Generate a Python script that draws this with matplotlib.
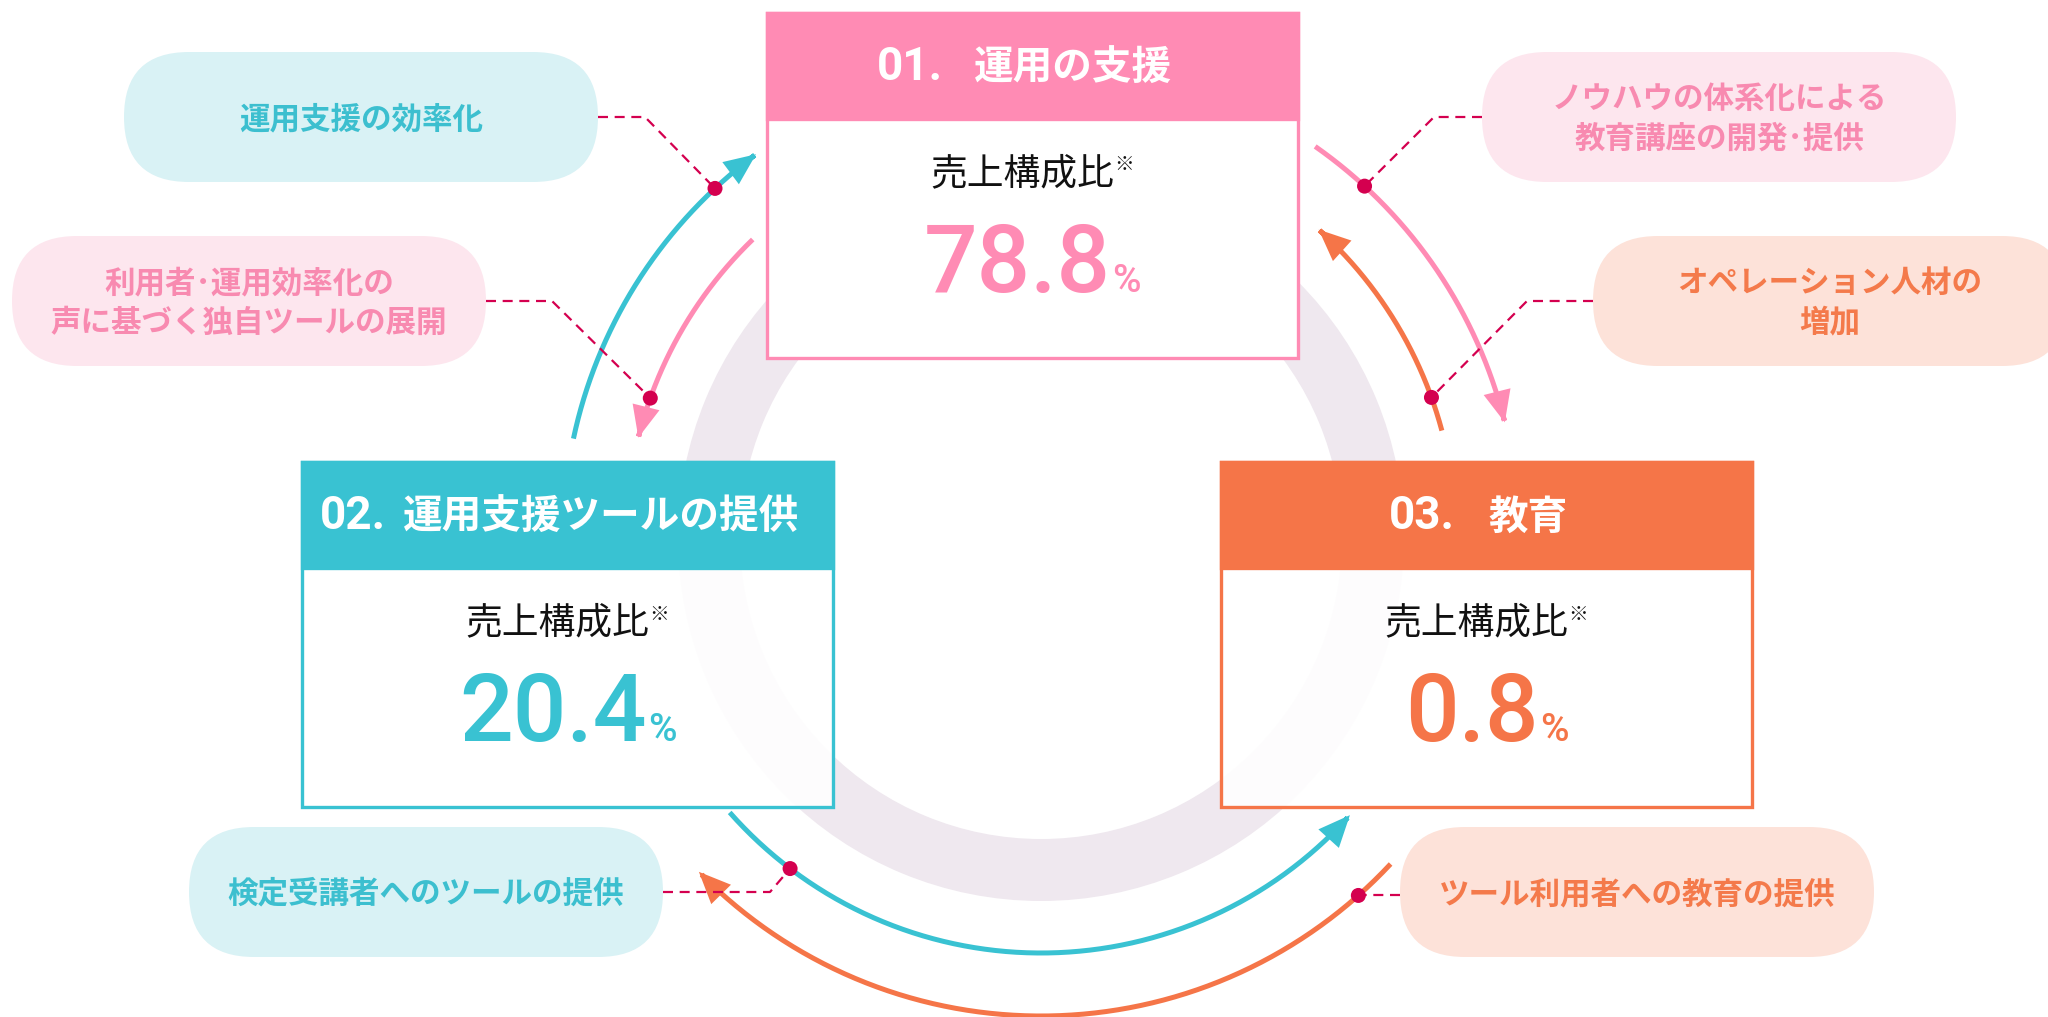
import numpy as np
import matplotlib
matplotlib.use('Agg')
import matplotlib.pyplot as plt
from matplotlib.patches import FancyBboxPatch, Rectangle, Wedge, FancyArrowPatch, Circle
from matplotlib.path import Path
from matplotlib.offsetbox import TextArea, HPacker, AnnotationBbox

JP = ['Noto Sans CJK JP', 'DejaVu Sans']
NUM = ['Roboto', 'DejaVu Sans']

# ---------------- data ----------------
seg_numbers = ['01.', '02.', '03.']
seg_names = ['運用の支援', '運用支援ツールの提供', '教育']
seg_shares = [78.8, 20.4, 0.8]
share_caption = '売上構成比'
share_mark = '※'

callout_texts = ['運用支援の効率化',
                 '利用者･運用効率化の\n声に基づく独自ツールの展開',
                 'ノウハウの体系化による\n教育講座の開発･提供',
                 'オペレーション人材の\n増加',
                 '検定受講者へのツールの提供',
                 'ツール利用者への教育の提供']
callout_seg = [1, 0, 0, 2, 1, 2]

# flows (arcs around the central ring)
flow_seg = [1, 0, 0, 2, 1, 2]
flow_start_deg = [168, 134, 55, 15, 221.4, -43]
flow_end_deg = [126.6, 166, 14, 48, 318.1, -135.7]
flow_outer = [True, False, True, False, False, True]
dot_deg = [133, 160.3, 47.4, 19.8, 232.8, -48.4]

# ---------------- style / layout ----------------
seg_colors = ['#FF8BB4', '#39C2D2', '#F57548']
pill_bg = ['#FDE6EE', '#D9F2F5', '#FDE2D9']
pill_fg = ['#F88AB0', '#3CBFCF', '#F47A4B']
dot_color = '#D4004F'
ring_color = '#EFE8EF'

W, H = 2048, 1017
fig = plt.figure(figsize=(W / 100, H / 100), dpi=100)
ax = fig.add_axes([0, 0, 1, 1])
ax.set_xlim(0, W)
ax.set_ylim(H, 0)
ax.axis('off')

cx, cy = 1041, 538
r_out, r_in = 478, 415

# background ring
ax.add_patch(Wedge((cx, cy), 363, 0, 360, width=62, facecolor=ring_color,
                   edgecolor='none', zorder=1))

def arc_pts(r, a0, a1, n=200):
    t = np.radians(np.linspace(a0, a1, n))
    return np.column_stack([cx + r * np.cos(t), cy - r * np.sin(t)])

# flows
for s, a0, a1, outer in zip(flow_seg, flow_start_deg, flow_end_deg, flow_outer):
    r = r_out if outer else r_in
    pts = arc_pts(r, a0, a1)
    p = FancyArrowPatch(path=Path(pts),
                        arrowstyle='-|>,head_length=0.55,head_width=0.24',
                        mutation_scale=30, color=seg_colors[s], lw=3.6,
                        zorder=2, joinstyle='miter', capstyle='butt')
    ax.add_patch(p)

# boxes
box_x = [767, 302, 1221]
box_y = [13, 462, 462]
box_w, box_h, head_h = 531, 345, 106
header_gap = [22, 12, 24]
box_alpha = [1.0, 0.9, 0.9]
for i in range(3):
    c = seg_colors[i]
    x0, y0 = box_x[i], box_y[i]
    ax.add_patch(Rectangle((x0, y0), box_w, box_h, facecolor='white',
                           alpha=box_alpha[i], edgecolor='none', zorder=3))
    ax.add_patch(Rectangle((x0, y0), box_w, box_h, facecolor='none',
                           edgecolor=c, lw=2.4, zorder=3.2))
    ax.add_patch(Rectangle((x0, y0), box_w, head_h, facecolor=c,
                           edgecolor=c, lw=2.4, zorder=3.1))
    xc = x0 + box_w / 2
    # header
    t_num = TextArea(seg_numbers[i], textprops=dict(family=NUM, weight='bold',
                                                    size=33, color='white'))
    t_name = TextArea(seg_names[i], textprops=dict(family=JP, weight='bold',
                                                   size=28.5, color='white'))
    hp = HPacker(children=[t_num, t_name], sep=header_gap[i], align='baseline', pad=0)
    ax.add_artist(AnnotationBbox(hp, (xc - 8, y0 + 54), frameon=False,
                                 box_alignment=(0.5, 0.5), zorder=4))
    # caption
    t_cap = TextArea(share_caption, textprops=dict(family=JP, size=26.5, color='#111111'))
    t_mark = TextArea(share_mark, textprops=dict(family=JP, size=14, color='#111111'))
    cp = HPacker(children=[t_cap, t_mark], sep=0, align='top', pad=0)
    ax.add_artist(AnnotationBbox(cp, (xc, y0 + 161), frameon=False,
                                 box_alignment=(0.5, 0.5), zorder=4))
    # share value
    t_val = TextArea(f'{seg_shares[i]:.1f}', textprops=dict(family=NUM, weight='medium',
                                                            size=68, color=c))
    t_pct = TextArea('%', textprops=dict(family=NUM, weight='medium', size=28, color=c))
    vp = HPacker(children=[t_val, t_pct], sep=1, align='baseline', pad=0)
    ax.add_artist(AnnotationBbox(vp, (xc, y0 + 253), frameon=False,
                                 box_alignment=(0.5, 0.5), zorder=4))

# callout pills
pill_x = [124, 12, 1482, 1593, 189, 1400]
pill_y = [52, 236, 52, 236, 827, 827]
pill_w, pill_h = 474, 130
for i, txt in enumerate(callout_texts):
    s = callout_seg[i]
    ax.add_patch(FancyBboxPatch((pill_x[i], pill_y[i]), pill_w, pill_h,
                                boxstyle='round,pad=0,rounding_size=65',
                                facecolor=pill_bg[s], edgecolor='none', zorder=3))
    ax.text(pill_x[i] + pill_w / 2, pill_y[i] + pill_h / 2 + 2, txt,
            family=JP, weight='bold', size=22, color=pill_fg[s],
            ha='center', va='center', multialignment='center',
            linespacing=1.3, zorder=4)

# leaders and dots
leader_side = ['right', 'right', 'left', 'left', 'right', 'left']
corner_x = [645, 552, 1434, 1527, 770, None]
for i in range(6):
    outer = flow_outer[i]
    r = r_out if outer else r_in
    t = np.radians(dot_deg[i])
    dx, dy = cx + r * np.cos(t), cy - r * np.sin(t)
    ey = pill_y[i] + pill_h / 2
    ex = pill_x[i] + pill_w if leader_side[i] == 'right' else pill_x[i]
    if corner_x[i] is None:
        xs, ys = [ex, dx], [dy, dy]
    else:
        xs, ys = [ex, corner_x[i], dx], [ey, ey, dy]
    ax.plot(xs, ys, color=dot_color, lw=1.6, ls=(0, (4.5, 3)), zorder=4.5,
            solid_capstyle='butt')
    ax.add_patch(Circle((dx, dy), 7.5, facecolor=dot_color, edgecolor='none', zorder=5))

fig.savefig('out.png', dpi=100, facecolor='white')
